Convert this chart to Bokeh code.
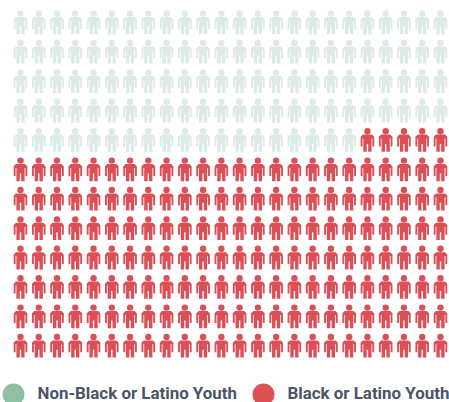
from bokeh.plotting import figure
from bokeh.models import Range1d
from bokeh.core.properties import value
from bokeh.embed import file_html
from bokeh.resources import INLINE

categories = ["Non-Black or Latino Youth", "Black or Latino Youth"]
counts = [115, 173]
icon_colors = ["#dcebe4", "#dd4f56"]
legend_colors = ["#8fc0a6", "#dc5056"]
n_cols = 24
n_rows = 12

W, H = 449, 402
X0, DX = 20, 18.26
Y0, DY = 21.9, 29.4

body_x = [-4.5, 4.5, 6.8, 6.8, 4.9, 4.9, 4.1, 4.1, 0.7, 0.7, -0.7, -0.7, -4.1, -4.1, -4.9, -4.9, -6.8, -6.8]
body_y = [-5.4, -5.4, -3.2, 6.5, 6.5, -1.5, -1.5, 11.8, 11.8, 4, 4, 11.8, 11.8, -1.5, -1.5, 6.5, 6.5, -3.2]

kinds = [0] * counts[0] + [1] * counts[1]

xs, ys, hx, hy, col = [], [], [], [], []
for i, k in enumerate(kinds):
    r, c = divmod(i, n_cols)
    cx = X0 + c * DX
    cy = Y0 + r * DY
    xs.append([cx + b for b in body_x])
    ys.append([cy + b for b in body_y])
    hx.append(cx)
    hy.append(cy - 8.8)
    col.append(icon_colors[k])

p = figure(width=W, height=H, output_backend="svg", toolbar_location=None,
           x_range=Range1d(0, W), y_range=Range1d(H, 0),
           min_border=0, outline_line_color=None)
p.xaxis.visible = False
p.yaxis.visible = False
p.grid.visible = False

p.patches(xs, ys, fill_color=col, line_color=None)
p.scatter(hx, hy, size=6.4, marker="circle", fill_color=col, line_color=None)

leg_x = [13, 263]
txt_x = [37, 287]
p.scatter(leg_x, [394, 394], size=22, marker="circle", fill_color=legend_colors, line_color=None)
p.text(txt_x, [392, 392], text=categories, text_font=value("Roboto"),
       text_font_size="16.9px", text_font_style="bold", text_color="#4a5568",
       text_baseline="middle", text_align="left")

open("out.html", "w").write(file_html(p, INLINE))
